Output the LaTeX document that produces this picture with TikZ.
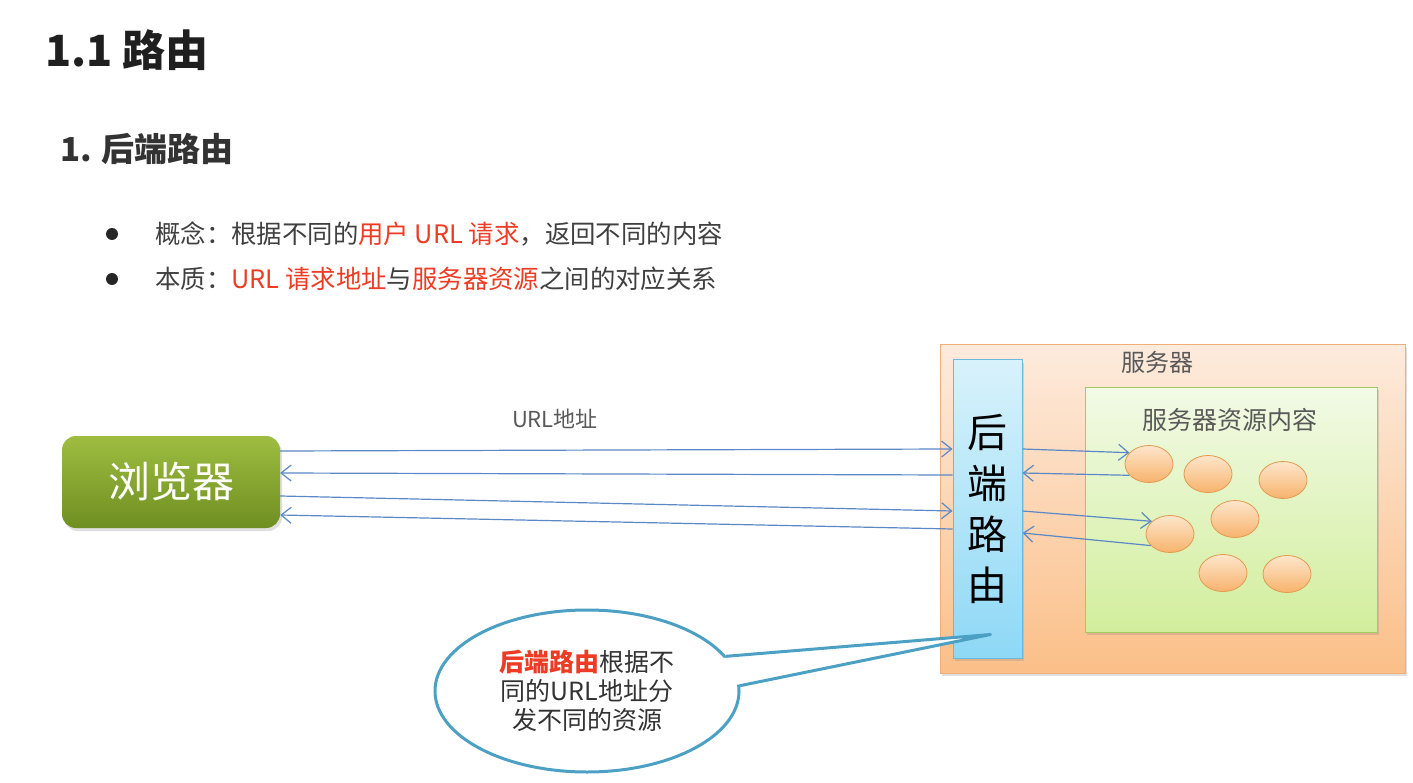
\documentclass[tikz,border=0pt]{standalone}
\usepackage{fontspec}
\setmainfont{Noto Sans CJK SC}
\usetikzlibrary{arrows.meta,shapes.geometric,shadows,calc}
\definecolor{linkblue}{HTML}{5B88C6}
\definecolor{hlred}{HTML}{EE3B24}
\definecolor{txtgray}{HTML}{404040}
\definecolor{lblgray}{HTML}{595959}
\definecolor{brtop}{HTML}{9EBD40}
\definecolor{brbot}{HTML}{6F8F22}
\definecolor{svtop}{HTML}{FDEBDD}
\definecolor{svbot}{HTML}{FBBF88}
\definecolor{svline}{HTML}{F2AE78}
\definecolor{rttop}{HTML}{D8F2FB}
\definecolor{rtbot}{HTML}{8ED8F6}
\definecolor{rtline}{HTML}{6CB9DC}
\definecolor{rstop}{HTML}{F2FAE6}
\definecolor{rsbot}{HTML}{D2EE9C}
\definecolor{rsline}{HTML}{A4C865}
\definecolor{ovtop}{HTML}{FDE6CC}
\definecolor{ovbot}{HTML}{F8B36C}
\definecolor{ovline}{HTML}{E39A4D}
\definecolor{callline}{HTML}{4BA0C4}
\tikzset{
  ttl/.style={anchor=west, inner sep=0pt, font=\fontsize{43}{48}\selectfont\bfseries, text=black!88},
  sub/.style={anchor=west, inner sep=0pt, font=\fontsize{33}{38}\selectfont\bfseries, text=black!80},
  item/.style={anchor=west, inner sep=0pt, font=\fontsize{25.4}{30}\selectfont, text=txtgray},
  dot/.style={circle, fill=black!85, minimum size=12pt, inner sep=0pt},
  shd/.style={drop shadow={shadow xshift=2pt, shadow yshift=-3pt, opacity=.25}},
  browserbox/.style={rectangle, rounded corners=14pt, minimum width=218pt, minimum height=92pt,
                     top color=brtop, bottom color=brbot, text=white, inner sep=0pt,
                     font=\fontsize{42}{46}\selectfont, shd},
  serverbox/.style={rectangle, draw=svline, line width=1pt, top color=svtop, bottom color=svbot,
                    minimum width=465pt, minimum height=328pt, inner sep=0pt, shd},
  routerbox/.style={rectangle, draw=rtline, line width=1pt, top color=rttop, bottom color=rtbot,
                    minimum width=69pt, minimum height=298pt, inner sep=0pt, align=center,
                    font=\fontsize{40}{51}\selectfont, text=black, shd},
  resbox/.style={rectangle, draw=rsline, line width=1pt, top color=rstop, bottom color=rsbot,
                 minimum width=292pt, minimum height=245pt, inner sep=0pt, shd},
  res/.style={ellipse, draw=ovline, line width=.8pt, top color=ovtop, bottom color=ovbot,
              minimum width=48pt, minimum height=37pt, inner sep=0pt},
  lbl/.style={inner sep=0pt, text=lblgray, font=\fontsize{24}{28}\selectfont},
  link/.style={draw=linkblue, line width=1.2pt, -{Straight Barb[length=10pt,width=16pt]}},
  callout/.style={ellipse, draw=callline, line width=3pt, fill=white, minimum width=304pt,
                  minimum height=162pt, inner sep=0pt, align=center, text=black!80,
                  font=\fontsize{25}{29}\selectfont},
}
\begin{document}
\begin{tikzpicture}[x=1pt, y=-1pt]
  \path[use as bounding box, fill=white] (0,0) rectangle (1413,783);

  \node[ttl] (title) at (45,50) {1.1 路由};
  \node[sub] (subtitle) at (60,149) {1. 后端路由};
  \node[dot] (d1) at (112,234) {};
  \node[dot] (d2) at (112,279) {};
  \node[item] (i1) at (155,234) {概念：根据不同的\textcolor{hlred}{用户 URL 请求}，返回不同的内容};
  \node[item] (i2) at (155,279) {本质：\textcolor{hlred}{URL 请求地址}与\textcolor{hlred}{服务器资源}之间的对应关系};

  \node[browserbox] (browser) at (171,482) {浏览器};
  \node[serverbox] (server) at (1172.5,509) {};
  \node[lbl] (svlbl) at (1157,362) {服务器};
  \node[resbox] (resarea) at (1231,509.5) {};
  \node[lbl, font=\fontsize{25}{28}\selectfont] (reslbl) at (1230,420) {服务器资源内容};
  \node[routerbox] (router) at (987.5,509) {后\\端\\路\\由};

  \node[res] (r1) at (1149,464) {};
  \node[res] (r2) at (1208,474) {};
  \node[res] (r3) at (1283,480) {};
  \node[res] (r4) at (1235,519) {};
  \node[res] (r5) at (1170,534) {};
  \node[res] (r6) at (1223,573) {};
  \node[res] (r7) at (1287,574) {};

  \node[lbl, font=\fontsize{22}{26}\selectfont] (urllbl) at (555,419) {URL地址};
  \draw[link] ([yshift=31pt]browser.east) -- ([yshift=60pt]router.west);
  \draw[link] ([yshift=34pt]router.west) -- ([yshift=9pt]browser.east);
  \draw[link] ([yshift=-14pt]browser.east) -- ([yshift=-2pt]router.west);
  \draw[link] ([yshift=-20pt]router.west) -- ([yshift=-33pt]browser.east);

  \draw[link] ([yshift=60pt]router.east) -- (r1.150);
  \draw[link] (r1.210) -- ([yshift=36pt]router.east);
  \draw[link] ([yshift=-2pt]router.east) -- (r5.145);
  \draw[link] (r5.211) -- ([yshift=-24pt]router.east);

  \node[callout] (note) at (587,691) {\textcolor{hlred}{\bfseries 后端路由}根据不\\同的URL地址分\\发不同的资源};
  \coordinate (tip) at ([xshift=3pt,yshift=24pt]router.south);
  \fill[white] ($(note.14)!.06!(note.center)$) -- (tip) -- ($(note.2)!.06!(note.center)$) -- cycle;
  \draw[callline, line width=3pt, line join=round] (note.14) -- (tip) -- (note.2);
\end{tikzpicture}
\end{document}
